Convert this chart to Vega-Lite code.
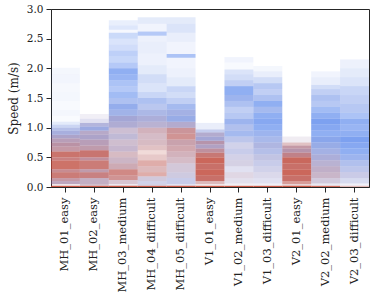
{
"$schema": "https://vega.github.io/schema/vega-lite/v6.json",
"width": 318,
"height": 178,
"autosize": {"type": "none"},
"padding": {"left": 51, "top": 9, "right": 5, "bottom": 106},
"config": {
  "view": {"stroke": "#262626", "strokeWidth": 1},
  "font": "DejaVu Serif",
  "axis": {"labelFont": "DejaVu Serif", "titleFont": "DejaVu Serif", "labelColor": "#222", "titleColor": "#222", "domainColor": "#262626", "tickColor": "#262626", "grid": false, "labelFontSize": 10.5, "titleFontSize": 12, "titleFontWeight": "normal", "tickSize": 5, "domainWidth": 1, "tickWidth": 1}
},
"datasets": {"d": [
{"s":"MH_01_easy","l":0,"h":0.02,"c":0,"a":0.9},
{"s":"MH_01_easy","l":0.02,"h":0.05,"c":0.3,"a":0.15},
{"s":"MH_01_easy","l":0.05,"h":0.1,"c":0.45,"a":0.55},
{"s":"MH_01_easy","l":0.1,"h":0.15,"c":0.3,"a":0.6},
{"s":"MH_01_easy","l":0.15,"h":0.25,"c":0.1,"a":0.72},
{"s":"MH_01_easy","l":0.25,"h":0.3,"c":0.2,"a":0.65},
{"s":"MH_01_easy","l":0.3,"h":0.45,"c":0.05,"a":0.76},
{"s":"MH_01_easy","l":0.45,"h":0.5,"c":0.15,"a":0.7},
{"s":"MH_01_easy","l":0.5,"h":0.6,"c":0.08,"a":0.76},
{"s":"MH_01_easy","l":0.6,"h":0.68,"c":0.3,"a":0.6},
{"s":"MH_01_easy","l":0.68,"h":0.75,"c":0.35,"a":0.65},
{"s":"MH_01_easy","l":0.75,"h":0.82,"c":0.45,"a":0.6},
{"s":"MH_01_easy","l":0.82,"h":0.88,"c":0.6,"a":0.6},
{"s":"MH_01_easy","l":0.88,"h":0.95,"c":0.75,"a":0.55},
{"s":"MH_01_easy","l":0.95,"h":1.0,"c":0.8,"a":0.45},
{"s":"MH_01_easy","l":1.0,"h":1.05,"c":0.85,"a":0.3},
{"s":"MH_01_easy","l":1.05,"h":1.1,"c":0.9,"a":0.15},
{"s":"MH_01_easy","l":1.1,"h":1.2,"c":0.9,"a":0.03},
{"s":"MH_01_easy","l":1.2,"h":1.3,"c":0.9,"a":0.06},
{"s":"MH_01_easy","l":1.3,"h":1.45,"c":0.9,"a":0.04},
{"s":"MH_01_easy","l":1.45,"h":1.6,"c":0.9,"a":0.06},
{"s":"MH_01_easy","l":1.6,"h":1.75,"c":0.9,"a":0.05},
{"s":"MH_01_easy","l":1.75,"h":1.9,"c":0.9,"a":0.07},
{"s":"MH_01_easy","l":1.9,"h":2.01,"c":0.9,"a":0.06},
{"s":"MH_02_easy","l":0,"h":0.02,"c":0,"a":0.9},
{"s":"MH_02_easy","l":0.02,"h":0.05,"c":0.4,"a":0.4},
{"s":"MH_02_easy","l":0.05,"h":0.15,"c":0.45,"a":0.5},
{"s":"MH_02_easy","l":0.15,"h":0.25,"c":0.15,"a":0.7},
{"s":"MH_02_easy","l":0.25,"h":0.3,"c":0.35,"a":0.6},
{"s":"MH_02_easy","l":0.3,"h":0.45,"c":0.1,"a":0.72},
{"s":"MH_02_easy","l":0.45,"h":0.5,"c":0.3,"a":0.65},
{"s":"MH_02_easy","l":0.5,"h":0.62,"c":0.1,"a":0.76},
{"s":"MH_02_easy","l":0.62,"h":0.7,"c":0.35,"a":0.6},
{"s":"MH_02_easy","l":0.7,"h":0.8,"c":0.45,"a":0.6},
{"s":"MH_02_easy","l":0.8,"h":0.88,"c":0.6,"a":0.6},
{"s":"MH_02_easy","l":0.88,"h":0.95,"c":0.55,"a":0.55},
{"s":"MH_02_easy","l":0.95,"h":1.02,"c":0.8,"a":0.6},
{"s":"MH_02_easy","l":1.02,"h":1.08,"c":0.7,"a":0.5},
{"s":"MH_02_easy","l":1.08,"h":1.15,"c":0.7,"a":0.2},
{"s":"MH_02_easy","l":1.15,"h":1.23,"c":0.6,"a":0.1},
{"s":"MH_03_medium","l":0,"h":0.02,"c":0,"a":0.9},
{"s":"MH_03_medium","l":0.02,"h":0.05,"c":0.5,"a":0.15},
{"s":"MH_03_medium","l":0.05,"h":0.12,"c":0.4,"a":0.35},
{"s":"MH_03_medium","l":0.12,"h":0.2,"c":0.15,"a":0.6},
{"s":"MH_03_medium","l":0.2,"h":0.3,"c":0.1,"a":0.65},
{"s":"MH_03_medium","l":0.3,"h":0.4,"c":0.3,"a":0.5},
{"s":"MH_03_medium","l":0.4,"h":0.5,"c":0.4,"a":0.45},
{"s":"MH_03_medium","l":0.5,"h":0.6,"c":0.3,"a":0.4},
{"s":"MH_03_medium","l":0.6,"h":0.7,"c":0.5,"a":0.45},
{"s":"MH_03_medium","l":0.7,"h":0.8,"c":0.45,"a":0.4},
{"s":"MH_03_medium","l":0.8,"h":0.9,"c":0.6,"a":0.45},
{"s":"MH_03_medium","l":0.9,"h":1.0,"c":0.5,"a":0.4},
{"s":"MH_03_medium","l":1.0,"h":1.1,"c":0.65,"a":0.55},
{"s":"MH_03_medium","l":1.1,"h":1.2,"c":0.7,"a":0.6},
{"s":"MH_03_medium","l":1.2,"h":1.3,"c":0.85,"a":0.55},
{"s":"MH_03_medium","l":1.3,"h":1.4,"c":0.9,"a":0.6},
{"s":"MH_03_medium","l":1.4,"h":1.5,"c":0.9,"a":0.45},
{"s":"MH_03_medium","l":1.5,"h":1.6,"c":0.95,"a":0.5},
{"s":"MH_03_medium","l":1.6,"h":1.7,"c":0.95,"a":0.4},
{"s":"MH_03_medium","l":1.7,"h":1.8,"c":0.95,"a":0.45},
{"s":"MH_03_medium","l":1.8,"h":1.9,"c":0.95,"a":0.55},
{"s":"MH_03_medium","l":1.9,"h":2.0,"c":0.95,"a":0.6},
{"s":"MH_03_medium","l":2.0,"h":2.1,"c":0.95,"a":0.4},
{"s":"MH_03_medium","l":2.1,"h":2.2,"c":0.95,"a":0.3},
{"s":"MH_03_medium","l":2.2,"h":2.3,"c":0.95,"a":0.35},
{"s":"MH_03_medium","l":2.3,"h":2.4,"c":0.95,"a":0.25},
{"s":"MH_03_medium","l":2.4,"h":2.5,"c":0.95,"a":0.2},
{"s":"MH_03_medium","l":2.5,"h":2.6,"c":0.95,"a":0.28},
{"s":"MH_03_medium","l":2.6,"h":2.65,"c":0.95,"a":0.05},
{"s":"MH_03_medium","l":2.65,"h":2.72,"c":0.95,"a":0.18},
{"s":"MH_03_medium","l":2.72,"h":2.81,"c":0.95,"a":0.12},
{"s":"MH_04_difficult","l":0,"h":0.02,"c":0,"a":0.9},
{"s":"MH_04_difficult","l":0.02,"h":0.05,"c":0.6,"a":0.3},
{"s":"MH_04_difficult","l":0.05,"h":0.1,"c":0.7,"a":0.3},
{"s":"MH_04_difficult","l":0.1,"h":0.18,"c":0.55,"a":0.35},
{"s":"MH_04_difficult","l":0.18,"h":0.25,"c":0.1,"a":0.45},
{"s":"MH_04_difficult","l":0.25,"h":0.35,"c":0.2,"a":0.4},
{"s":"MH_04_difficult","l":0.35,"h":0.45,"c":0.1,"a":0.45},
{"s":"MH_04_difficult","l":0.45,"h":0.55,"c":0.15,"a":0.3},
{"s":"MH_04_difficult","l":0.55,"h":0.62,"c":0.1,"a":0.2},
{"s":"MH_04_difficult","l":0.62,"h":0.7,"c":0.2,"a":0.35},
{"s":"MH_04_difficult","l":0.7,"h":0.8,"c":0.3,"a":0.4},
{"s":"MH_04_difficult","l":0.8,"h":0.9,"c":0.35,"a":0.4},
{"s":"MH_04_difficult","l":0.9,"h":1.0,"c":0.3,"a":0.45},
{"s":"MH_04_difficult","l":1.0,"h":1.1,"c":0.6,"a":0.5},
{"s":"MH_04_difficult","l":1.1,"h":1.2,"c":0.7,"a":0.55},
{"s":"MH_04_difficult","l":1.2,"h":1.3,"c":0.8,"a":0.5},
{"s":"MH_04_difficult","l":1.3,"h":1.4,"c":0.85,"a":0.4},
{"s":"MH_04_difficult","l":1.4,"h":1.5,"c":0.9,"a":0.45},
{"s":"MH_04_difficult","l":1.5,"h":1.6,"c":0.9,"a":0.3},
{"s":"MH_04_difficult","l":1.6,"h":1.75,"c":0.9,"a":0.2},
{"s":"MH_04_difficult","l":1.75,"h":1.9,"c":0.9,"a":0.25},
{"s":"MH_04_difficult","l":1.9,"h":2.05,"c":0.9,"a":0.15},
{"s":"MH_04_difficult","l":2.05,"h":2.25,"c":0.9,"a":0.1},
{"s":"MH_04_difficult","l":2.25,"h":2.45,"c":0.9,"a":0.12},
{"s":"MH_04_difficult","l":2.45,"h":2.55,"c":0.9,"a":0.1},
{"s":"MH_04_difficult","l":2.55,"h":2.62,"c":0.95,"a":0.4},
{"s":"MH_04_difficult","l":2.62,"h":2.75,"c":0.9,"a":0.08},
{"s":"MH_04_difficult","l":2.75,"h":2.86,"c":0.9,"a":0.15},
{"s":"MH_05_difficult","l":0,"h":0.02,"c":0,"a":0.9},
{"s":"MH_05_difficult","l":0.02,"h":0.05,"c":0.7,"a":0.2},
{"s":"MH_05_difficult","l":0.05,"h":0.15,"c":0.75,"a":0.35},
{"s":"MH_05_difficult","l":0.15,"h":0.25,"c":0.6,"a":0.35},
{"s":"MH_05_difficult","l":0.25,"h":0.4,"c":0.5,"a":0.35},
{"s":"MH_05_difficult","l":0.4,"h":0.5,"c":0.35,"a":0.4},
{"s":"MH_05_difficult","l":0.5,"h":0.6,"c":0.3,"a":0.45},
{"s":"MH_05_difficult","l":0.6,"h":0.7,"c":0.25,"a":0.5},
{"s":"MH_05_difficult","l":0.7,"h":0.8,"c":0.3,"a":0.55},
{"s":"MH_05_difficult","l":0.8,"h":0.9,"c":0.15,"a":0.6},
{"s":"MH_05_difficult","l":0.9,"h":1.0,"c":0.2,"a":0.6},
{"s":"MH_05_difficult","l":1.0,"h":1.1,"c":0.6,"a":0.55},
{"s":"MH_05_difficult","l":1.1,"h":1.2,"c":0.85,"a":0.6},
{"s":"MH_05_difficult","l":1.2,"h":1.3,"c":0.8,"a":0.55},
{"s":"MH_05_difficult","l":1.3,"h":1.4,"c":0.9,"a":0.5},
{"s":"MH_05_difficult","l":1.4,"h":1.5,"c":0.9,"a":0.35},
{"s":"MH_05_difficult","l":1.5,"h":1.6,"c":0.9,"a":0.25},
{"s":"MH_05_difficult","l":1.6,"h":1.7,"c":0.9,"a":0.3},
{"s":"MH_05_difficult","l":1.7,"h":1.85,"c":0.9,"a":0.15},
{"s":"MH_05_difficult","l":1.85,"h":2.0,"c":0.9,"a":0.1},
{"s":"MH_05_difficult","l":2.0,"h":2.18,"c":0.9,"a":0.08},
{"s":"MH_05_difficult","l":2.18,"h":2.24,"c":0.95,"a":0.45},
{"s":"MH_05_difficult","l":2.24,"h":2.45,"c":0.9,"a":0.08},
{"s":"MH_05_difficult","l":2.45,"h":2.6,"c":0.9,"a":0.12},
{"s":"MH_05_difficult","l":2.6,"h":2.75,"c":0.9,"a":0.2},
{"s":"MH_05_difficult","l":2.75,"h":2.86,"c":0.9,"a":0.15},
{"s":"V1_01_easy","l":0,"h":0.02,"c":0,"a":0.9},
{"s":"V1_01_easy","l":0.02,"h":0.05,"c":0.3,"a":0.15},
{"s":"V1_01_easy","l":0.05,"h":0.1,"c":0.2,"a":0.4},
{"s":"V1_01_easy","l":0.1,"h":0.2,"c":0.08,"a":0.78},
{"s":"V1_01_easy","l":0.2,"h":0.3,"c":0.04,"a":0.82},
{"s":"V1_01_easy","l":0.3,"h":0.4,"c":0.08,"a":0.78},
{"s":"V1_01_easy","l":0.4,"h":0.5,"c":0.04,"a":0.82},
{"s":"V1_01_easy","l":0.5,"h":0.58,"c":0.12,"a":0.75},
{"s":"V1_01_easy","l":0.58,"h":0.65,"c":0.3,"a":0.65},
{"s":"V1_01_easy","l":0.65,"h":0.72,"c":0.55,"a":0.6},
{"s":"V1_01_easy","l":0.72,"h":0.78,"c":0.4,"a":0.65},
{"s":"V1_01_easy","l":0.78,"h":0.85,"c":0.7,"a":0.6},
{"s":"V1_01_easy","l":0.85,"h":0.92,"c":0.6,"a":0.55},
{"s":"V1_01_easy","l":0.92,"h":0.97,"c":0.8,"a":0.35},
{"s":"V1_01_easy","l":0.97,"h":1.08,"c":0.85,"a":0.12},
{"s":"V1_02_medium","l":0,"h":0.02,"c":0,"a":0.9},
{"s":"V1_02_medium","l":0.02,"h":0.06,"c":0.5,"a":0.1},
{"s":"V1_02_medium","l":0.06,"h":0.15,"c":0.6,"a":0.2},
{"s":"V1_02_medium","l":0.15,"h":0.25,"c":0.5,"a":0.25},
{"s":"V1_02_medium","l":0.25,"h":0.35,"c":0.7,"a":0.2},
{"s":"V1_02_medium","l":0.35,"h":0.45,"c":0.6,"a":0.3},
{"s":"V1_02_medium","l":0.45,"h":0.55,"c":0.65,"a":0.3},
{"s":"V1_02_medium","l":0.55,"h":0.65,"c":0.75,"a":0.35},
{"s":"V1_02_medium","l":0.65,"h":0.75,"c":0.7,"a":0.3},
{"s":"V1_02_medium","l":0.75,"h":0.85,"c":0.8,"a":0.4},
{"s":"V1_02_medium","l":0.85,"h":0.95,"c":0.9,"a":0.5},
{"s":"V1_02_medium","l":0.95,"h":1.05,"c":0.85,"a":0.45},
{"s":"V1_02_medium","l":1.05,"h":1.15,"c":0.9,"a":0.55},
{"s":"V1_02_medium","l":1.15,"h":1.25,"c":0.9,"a":0.4},
{"s":"V1_02_medium","l":1.25,"h":1.35,"c":0.9,"a":0.35},
{"s":"V1_02_medium","l":1.35,"h":1.45,"c":0.9,"a":0.45},
{"s":"V1_02_medium","l":1.45,"h":1.55,"c":0.9,"a":0.55},
{"s":"V1_02_medium","l":1.55,"h":1.7,"c":0.95,"a":0.6},
{"s":"V1_02_medium","l":1.7,"h":1.8,"c":0.9,"a":0.35},
{"s":"V1_02_medium","l":1.8,"h":1.9,"c":0.9,"a":0.25},
{"s":"V1_02_medium","l":1.9,"h":1.98,"c":0.9,"a":0.2},
{"s":"V1_02_medium","l":1.98,"h":2.1,"c":0.9,"a":0.04},
{"s":"V1_02_medium","l":2.1,"h":2.19,"c":0.9,"a":0.08},
{"s":"V1_03_difficult","l":0,"h":0.02,"c":0,"a":0.9},
{"s":"V1_03_difficult","l":0.02,"h":0.06,"c":0.6,"a":0.1},
{"s":"V1_03_difficult","l":0.06,"h":0.15,"c":0.7,"a":0.2},
{"s":"V1_03_difficult","l":0.15,"h":0.25,"c":0.65,"a":0.25},
{"s":"V1_03_difficult","l":0.25,"h":0.35,"c":0.7,"a":0.3},
{"s":"V1_03_difficult","l":0.35,"h":0.45,"c":0.75,"a":0.35},
{"s":"V1_03_difficult","l":0.45,"h":0.55,"c":0.7,"a":0.4},
{"s":"V1_03_difficult","l":0.55,"h":0.65,"c":0.8,"a":0.45},
{"s":"V1_03_difficult","l":0.65,"h":0.75,"c":0.75,"a":0.5},
{"s":"V1_03_difficult","l":0.75,"h":0.85,"c":0.85,"a":0.5},
{"s":"V1_03_difficult","l":0.85,"h":0.95,"c":0.9,"a":0.55},
{"s":"V1_03_difficult","l":0.95,"h":1.05,"c":0.95,"a":0.6},
{"s":"V1_03_difficult","l":1.05,"h":1.15,"c":0.95,"a":0.65},
{"s":"V1_03_difficult","l":1.15,"h":1.25,"c":0.95,"a":0.6},
{"s":"V1_03_difficult","l":1.25,"h":1.35,"c":0.9,"a":0.5},
{"s":"V1_03_difficult","l":1.35,"h":1.45,"c":0.95,"a":0.6},
{"s":"V1_03_difficult","l":1.45,"h":1.55,"c":0.9,"a":0.45},
{"s":"V1_03_difficult","l":1.55,"h":1.65,"c":0.9,"a":0.35},
{"s":"V1_03_difficult","l":1.65,"h":1.75,"c":0.9,"a":0.4},
{"s":"V1_03_difficult","l":1.75,"h":1.85,"c":0.9,"a":0.25},
{"s":"V1_03_difficult","l":1.85,"h":1.95,"c":0.9,"a":0.12},
{"s":"V1_03_difficult","l":1.95,"h":2.04,"c":0.9,"a":0.06},
{"s":"V2_01_easy","l":0,"h":0.02,"c":0,"a":0.9},
{"s":"V2_01_easy","l":0.02,"h":0.05,"c":0.2,"a":0.25},
{"s":"V2_01_easy","l":0.05,"h":0.1,"c":0.1,"a":0.55},
{"s":"V2_01_easy","l":0.1,"h":0.2,"c":0.08,"a":0.78},
{"s":"V2_01_easy","l":0.2,"h":0.3,"c":0.04,"a":0.82},
{"s":"V2_01_easy","l":0.3,"h":0.4,"c":0.08,"a":0.78},
{"s":"V2_01_easy","l":0.4,"h":0.5,"c":0.05,"a":0.82},
{"s":"V2_01_easy","l":0.5,"h":0.58,"c":0.22,"a":0.72},
{"s":"V2_01_easy","l":0.58,"h":0.65,"c":0.4,"a":0.65},
{"s":"V2_01_easy","l":0.65,"h":0.7,"c":0.3,"a":0.6},
{"s":"V2_01_easy","l":0.7,"h":0.75,"c":0.2,"a":0.35},
{"s":"V2_01_easy","l":0.75,"h":0.85,"c":0.5,"a":0.12},
{"s":"V2_02_medium","l":0,"h":0.02,"c":0,"a":0.8},
{"s":"V2_02_medium","l":0.02,"h":0.06,"c":0.6,"a":0.15},
{"s":"V2_02_medium","l":0.06,"h":0.15,"c":0.55,"a":0.35},
{"s":"V2_02_medium","l":0.15,"h":0.25,"c":0.45,"a":0.45},
{"s":"V2_02_medium","l":0.25,"h":0.35,"c":0.5,"a":0.5},
{"s":"V2_02_medium","l":0.35,"h":0.45,"c":0.6,"a":0.5},
{"s":"V2_02_medium","l":0.45,"h":0.55,"c":0.7,"a":0.55},
{"s":"V2_02_medium","l":0.55,"h":0.65,"c":0.8,"a":0.55},
{"s":"V2_02_medium","l":0.65,"h":0.75,"c":0.85,"a":0.6},
{"s":"V2_02_medium","l":0.75,"h":0.85,"c":0.9,"a":0.65},
{"s":"V2_02_medium","l":0.85,"h":0.95,"c":0.95,"a":0.6},
{"s":"V2_02_medium","l":0.95,"h":1.05,"c":0.95,"a":0.65},
{"s":"V2_02_medium","l":1.05,"h":1.15,"c":0.95,"a":0.7},
{"s":"V2_02_medium","l":1.15,"h":1.25,"c":0.95,"a":0.6},
{"s":"V2_02_medium","l":1.25,"h":1.35,"c":0.95,"a":0.5},
{"s":"V2_02_medium","l":1.35,"h":1.45,"c":0.9,"a":0.4},
{"s":"V2_02_medium","l":1.45,"h":1.55,"c":0.9,"a":0.45},
{"s":"V2_02_medium","l":1.55,"h":1.65,"c":0.9,"a":0.35},
{"s":"V2_02_medium","l":1.65,"h":1.72,"c":0.9,"a":0.25},
{"s":"V2_02_medium","l":1.72,"h":1.85,"c":0.9,"a":0.12},
{"s":"V2_02_medium","l":1.85,"h":1.95,"c":0.9,"a":0.08},
{"s":"V2_03_difficult","l":0,"h":0.02,"c":0.1,"a":0.4},
{"s":"V2_03_difficult","l":0.02,"h":0.06,"c":0.7,"a":0.1},
{"s":"V2_03_difficult","l":0.06,"h":0.15,"c":0.75,"a":0.25},
{"s":"V2_03_difficult","l":0.15,"h":0.25,"c":0.7,"a":0.35},
{"s":"V2_03_difficult","l":0.25,"h":0.35,"c":0.8,"a":0.4},
{"s":"V2_03_difficult","l":0.35,"h":0.45,"c":0.85,"a":0.45},
{"s":"V2_03_difficult","l":0.45,"h":0.55,"c":0.9,"a":0.55},
{"s":"V2_03_difficult","l":0.55,"h":0.65,"c":0.95,"a":0.6},
{"s":"V2_03_difficult","l":0.65,"h":0.75,"c":0.95,"a":0.65},
{"s":"V2_03_difficult","l":0.75,"h":0.85,"c":0.95,"a":0.7},
{"s":"V2_03_difficult","l":0.85,"h":0.95,"c":0.95,"a":0.6},
{"s":"V2_03_difficult","l":0.95,"h":1.05,"c":0.95,"a":0.55},
{"s":"V2_03_difficult","l":1.05,"h":1.15,"c":0.95,"a":0.6},
{"s":"V2_03_difficult","l":1.15,"h":1.25,"c":0.95,"a":0.45},
{"s":"V2_03_difficult","l":1.25,"h":1.4,"c":0.9,"a":0.4},
{"s":"V2_03_difficult","l":1.4,"h":1.55,"c":0.9,"a":0.35},
{"s":"V2_03_difficult","l":1.55,"h":1.7,"c":0.9,"a":0.3},
{"s":"V2_03_difficult","l":1.7,"h":1.85,"c":0.9,"a":0.2},
{"s":"V2_03_difficult","l":1.85,"h":2.0,"c":0.9,"a":0.15},
{"s":"V2_03_difficult","l":2.0,"h":2.15,"c":0.9,"a":0.1}
]},
"data": {"name": "d"},
"mark": {"type": "rect", "strokeWidth": 0},
"encoding": {
  "x": {"field": "s", "type": "nominal", "sort": null, "title": null,
        "scale": {"paddingInner": 0, "paddingOuter": 0},
        "axis": {"labelAngle": -90, "labelPadding": 5, "tickSize": 5, "labelFontSize": 11.5, "labelLimit": 110}},
  "y": {"field": "l", "type": "quantitative", "title": "Speed (m/s)",
        "scale": {"domain": [0, 3], "nice": false},
        "axis": {"values": [0, 0.5, 1, 1.5, 2, 2.5, 3], "format": ".1f", "labelPadding": 3, "titlePadding": 6}},
  "y2": {"field": "h"},
  "color": {"field": "c", "type": "quantitative", "legend": null,
            "scale": {"domain": [0, 1], "range": ["#c4442f", "#3f7cf4"], "interpolate": "rgb"}},
  "opacity": {"field": "a", "type": "quantitative", "scale": null, "legend": null}
}
}
